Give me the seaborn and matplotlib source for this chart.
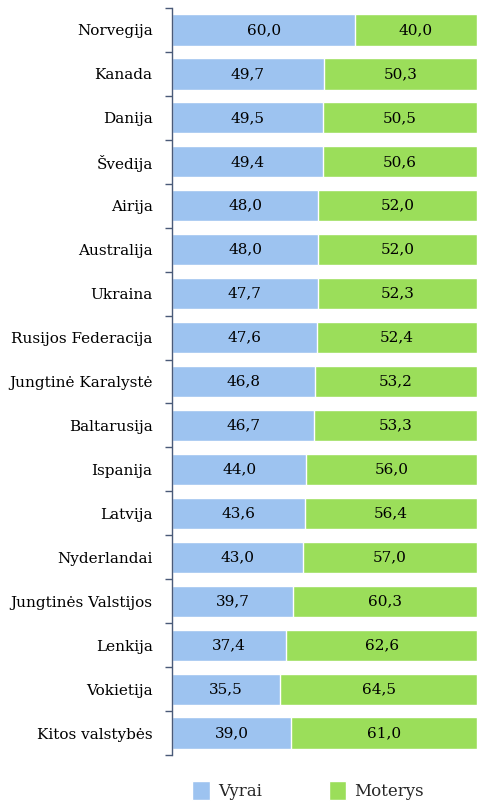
import numpy as np
import pandas as pd
import seaborn as sns
import matplotlib.pyplot as plt
from matplotlib.patches import Patch
from matplotlib.ticker import FixedLocator

sns.set_style("white")
plt.rcParams['font.family'] = ['DejaVu Serif']

# data
countries = ["Norvegija", "Kanada", "Danija", "Švedija", "Airija", "Australija",
             "Ukraina", "Rusijos Federacija", "Jungtinė Karalystė", "Baltarusija",
             "Ispanija", "Latvija", "Nyderlandai", "Jungtinės Valstijos",
             "Lenkija", "Vokietija", "Kitos valstybės"]
vyrai = [60.0, 49.7, 49.5, 49.4, 48.0, 48.0, 47.7, 47.6, 46.8, 46.7,
         44.0, 43.6, 43.0, 39.7, 37.4, 35.5, 39.0]
moterys = [40.0, 50.3, 50.5, 50.6, 52.0, 52.0, 52.3, 52.4, 53.2, 53.3,
           56.0, 56.4, 57.0, 60.3, 62.6, 64.5, 61.0]

blue = "#9DC3F0"
green = "#9BDE5A"

df = pd.DataFrame({"country": countries, "vyrai": vyrai, "moterys": moterys})
df["total"] = df["vyrai"] + df["moterys"]

fig = plt.figure(figsize=(4.78, 8.01), dpi=100)
ax = fig.add_axes([0.360, 0.0574, 0.638, 0.9326])

# stacked: draw total in green, then men in blue over it
sns.barplot(data=df, x="total", y="country", color=green, width=0.71,
            saturation=1, ax=ax, orient="h")
sns.barplot(data=df, x="vyrai", y="country", color=blue, width=0.71,
            saturation=1, ax=ax, orient="h")

for i, (v, m) in enumerate(zip(vyrai, moterys)):
    ax.text(v / 2, i, f"{v:.1f}".replace(".", ","), ha="center", va="center",
            fontsize=11, color="black")
    ax.text(v + m / 2, i, f"{m:.1f}".replace(".", ","), ha="center", va="center",
            fontsize=11, color="black")

ax.set_xlim(0, 100)
ax.set_ylim(len(countries) - 0.5, -0.5)
ax.set_xlabel("")
ax.set_ylabel("")
ax.set_xticks([])
ax.tick_params(axis="y", which="major", length=0, pad=14, labelsize=11,
               labelcolor="black")
ax.yaxis.set_minor_locator(FixedLocator(np.arange(-0.5, len(countries), 1.0)))
ax.tick_params(axis="y", which="minor", length=5, width=1, color="#4A5A78", left=True)
for s in ["top", "right", "bottom"]:
    ax.spines[s].set_visible(False)
ax.spines["left"].set_color("#4A5A78")
ax.spines["left"].set_linewidth(1)

handles = [Patch(facecolor=blue, label="Vyrai"), Patch(facecolor=green, label="Moterys")]
fig.legend(handles=handles, loc="lower center", bbox_to_anchor=(0.645, -0.018), ncol=2,
           frameon=False, fontsize=12, handlelength=1.05, handleheight=1.4,
           columnspacing=4.0, handletextpad=0.5)

fig.savefig("out.png", dpi=100)
